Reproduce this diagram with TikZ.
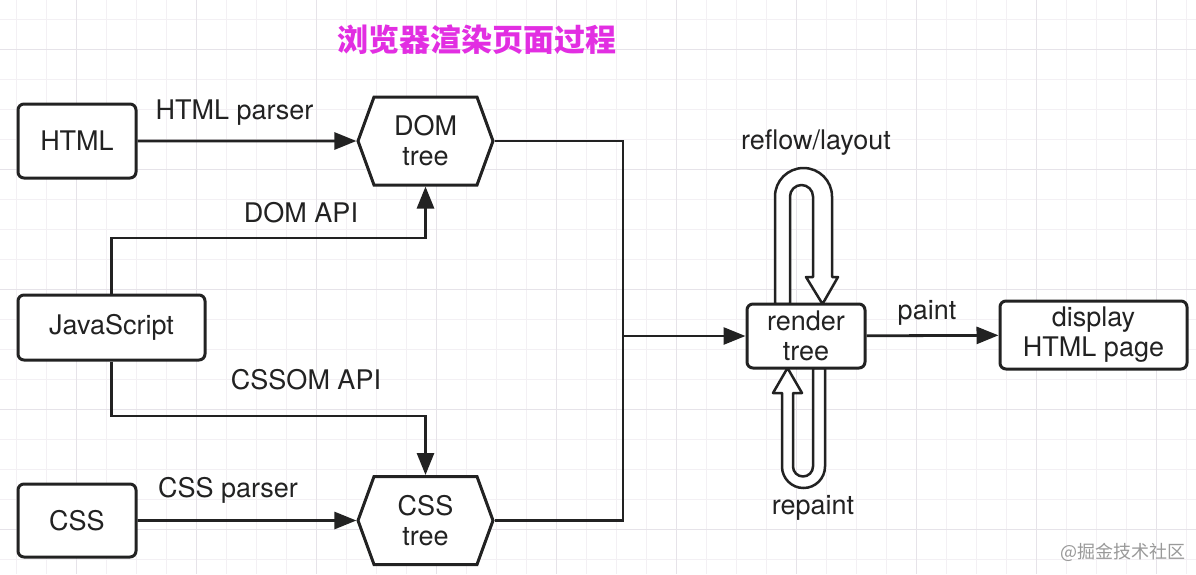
\documentclass[tikz,border=0pt]{standalone}
\usepackage{fontspec}
\setmainfont{TeX Gyre Heros}
\newfontfamily\cjk{Noto Sans CJK SC}
\usepackage{tikz}
\usepackage{xcolor}
\usetikzlibrary{arrows.meta,shapes.symbols}
\definecolor{inkgray}{HTML}{222222}
\definecolor{titlepink}{HTML}{E22EE2}
\definecolor{gridlight}{HTML}{F3F0F4}
\definecolor{griddark}{HTML}{E6E3E9}
\tikzset{
    plain-box/.style = {draw=inkgray, fill=white, line width=3pt, rectangle, rounded corners=6pt, inner sep=0pt, text=inkgray, align=center, font=\fontsize{27}{30}\selectfont},
    tree-hex/.style = {draw=inkgray, fill=white, line width=3pt, signal, signal to=west and east, signal pointer angle=140, minimum width=135pt, minimum height=88pt, inner sep=0pt, text=inkgray, align=center, font=\fontsize{27}{30}\selectfont},
    flow-line/.style = {draw=inkgray, line width=2.8pt},
    flow-arrow/.style = {flow-line, -{Triangle[length=22pt,width=17pt]}},
    hollow-arrow/.style = {draw=inkgray, fill=white, line width=2.5pt, line join=round},
    edge-label/.style = {text=inkgray, font=\fontsize{27}{30}\selectfont},
}

\begin{document}
\begin{tikzpicture}[x=1pt, y=-1pt]
\useasboundingbox (0,0) rectangle (1196,574);
\fill[white] (0,0) rectangle (1196,574);
% grid
\foreach \gx in {16,46,...,1196} \draw[gridlight, line width=0.9pt] (\gx,0) -- (\gx,574);
\foreach \gy in {19,49,...,574} \draw[gridlight, line width=0.9pt] (0,\gy) -- (1196,\gy);
\foreach \gx in {76,196,...,1196} \draw[griddark, line width=1pt] (\gx,0) -- (\gx,574);
\foreach \gy in {49,169,...,574} \draw[griddark, line width=1pt] (0,\gy) -- (1196,\gy);

\node[text=titlepink, font=\cjk\bfseries\fontsize{31}{34}\selectfont] (title) at (477,40) {浏览器渲染页面过程};

\node[plain-box, minimum width=118pt, minimum height=74pt] (html) at (77,141) {HTML};
\node[plain-box, minimum width=187pt, minimum height=65pt] (js) at (111.5,327.5) {JavaScript};
\node[plain-box, minimum width=118pt, minimum height=73pt] (css) at (77,520.5) {CSS};
\node[tree-hex] (dom) at (425.5,141) {DOM\\tree};
\node[tree-hex] (csst) at (425.5,520.5) {CSS\\tree};

% reflow and repaint loops
\draw[hollow-arrow] (775,304) -- (775,196.5) arc[start angle=180, end angle=360, radius=28.5] -- (832,277) -- (838,277) -- (822.5,304) -- (806,277) -- (813,277) -- (813,196.5) arc[start angle=0, end angle=-180, radius=11.5] -- (790,304) -- cycle;
\draw[hollow-arrow] (782,393) -- (782,466.5) arc[start angle=180, end angle=0, radius=21.5] -- (825,368) -- (813,368) -- (813,466.5) arc[start angle=0, end angle=180, radius=10] -- (793,393) -- (802,393) -- (787.5,368) -- (773,393) -- cycle;

\node[plain-box, minimum width=118pt, minimum height=64pt] (render) at (806,336) {render\\tree};
\node[plain-box, minimum width=187pt, minimum height=68pt] (display) at (1093.5,335) {display\\HTML page};

\coordinate (dom-api) at (111.5,238);
\coordinate (cssom-api) at (111.5,416);
\coordinate (merge) at (623,336);

\draw[flow-arrow] (html) -- (dom);
\draw[flow-arrow] (css) -- (csst);
\draw[flow-arrow] (js.north) -- (dom-api) -| (dom.south);
\draw[flow-arrow] (js.south) -- (cssom-api) -| (csst.north);
\draw[flow-line] (dom.east) -| (merge) |- (csst.east);
\draw[flow-arrow] (merge) -- (render);
\draw[flow-arrow] (render) -- (display);

\node[edge-label] (html-parser) at (234.5,113) {HTML parser};
\node[edge-label] (dom-label) at (301,213) {DOM API};
\node[edge-label] (cssom-label) at (306,380) {CSSOM API};
\node[edge-label] (css-parser) at (228,490) {CSS parser};
\node[edge-label] (reflow) at (816,143) {reflow/layout};
\node[edge-label] (repaint) at (813,508) {repaint};
\node[edge-label] (paint) at (927,313) {paint};

\node[text=black!40, font=\cjk\fontsize{18}{22}\selectfont] (mark) at (1123,552) {@掘金技术社区};
\end{tikzpicture}
\end{document}
